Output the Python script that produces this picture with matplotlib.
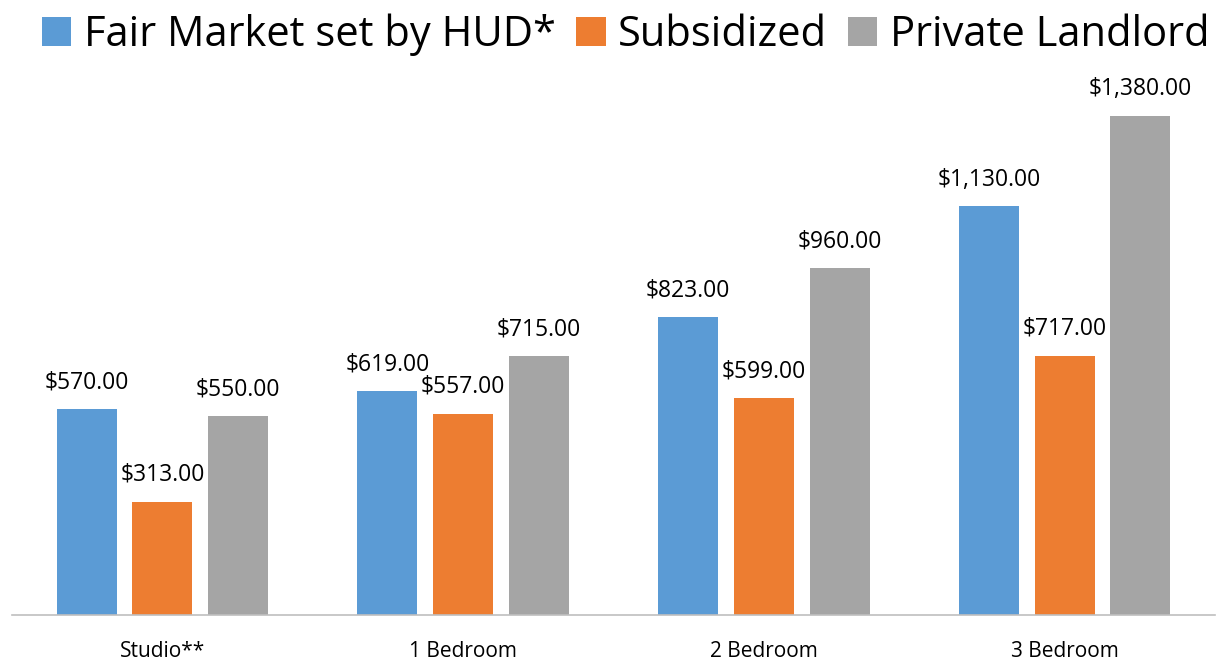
import matplotlib
matplotlib.use('Agg')
import matplotlib.pyplot as plt
import numpy as np
from matplotlib.patches import Patch

plt.rcParams['font.family'] = ['Open Sans', 'DejaVu Sans']

categories = ['Studio**', '1 Bedroom', '2 Bedroom', '3 Bedroom']
series_names = ['Fair Market set by HUD*', 'Subsidized', 'Private Landlord']
fair_market = [570, 619, 823, 1130]
subsidized = [313, 557, 599, 717]
private = [550, 715, 960, 1380]
colors = ['#5B9BD5', '#ED7D31', '#A5A5A5']

fig = plt.figure(figsize=(12.27, 6.63), dpi=100)
ax = fig.add_axes([12/1227, 48/663, 1203/1227, 525/663])

x = np.arange(len(categories))
w = 0.2
step = 0.252
for k, vals in enumerate([fair_market, subsidized, private]):
    xs = x + (k - 1) * step
    ax.bar(xs, vals, width=w, color=colors[k])
    for xi, v in zip(xs, vals):
        ax.annotate('${:,.2f}'.format(v), (xi, v), xytext=(0, 15), textcoords='offset points',
                    ha='center', va='baseline', fontsize=16.5, color='#000000')

ax.set_xlim(-0.5, 3.5)
ax.set_ylim(0, 1452)
ax.set_yticks([])
ax.set_xticks(x)
ax.set_xticklabels(categories, fontsize=15)
ax.tick_params(axis='x', length=0, pad=19)
for s in ['top', 'right', 'left']:
    ax.spines[s].set_visible(False)
ax.spines['bottom'].set_color('#BFBFBF')
ax.spines['bottom'].set_linewidth(1.2)

handles = [Patch(facecolor=c, edgecolor='none') for c in colors]
fig.legend(handles, series_names, loc='upper center', bbox_to_anchor=(0.51, 1.005), ncol=3,
           frameon=False, fontsize=30, handlelength=0.7, handleheight=0.7,
           handletextpad=0.3, columnspacing=0.5, borderaxespad=0)

fig.savefig('out.png', dpi=100)
